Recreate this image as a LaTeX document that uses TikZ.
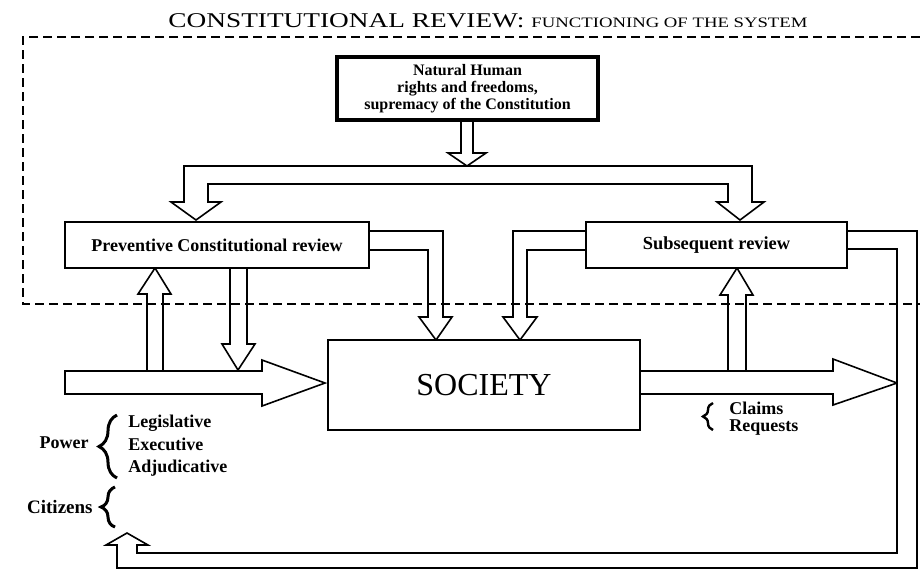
\documentclass[tikz,border=0pt]{standalone}
\usepackage{fontspec}
\setmainfont{Liberation Serif}
\newfontfamily\titlefont[FakeStretch=1.3]{Liberation Serif}
\usetikzlibrary{decorations.pathreplacing}

\begin{document}
\begin{tikzpicture}[x=0.5pt,y=-0.5pt,
    box/.style={draw,line width=0.8pt,fill=white,inner sep=0pt},
    hollow/.style={draw,fill=white,line width=0.8pt,line join=miter},
    lbl/.style={font=\bfseries\fontsize{9}{10}\selectfont,inner sep=0pt},
    curly/.style={decorate,decoration={brace,amplitude=#1},line width=1.5pt}]
  \path[use as bounding box,clip] (0,0) rectangle (920,570);

  \node[anchor=base,inner sep=0pt] (title) at (488,27)
    {\titlefont\fontsize{10.5}{12}\selectfont CONSTITUTIONAL REVIEW:
     \fontsize{7.2}{9}\selectfont FUNCTIONING OF THE SYSTEM};

  % Hollow arrows, drawn first so that the boxes sit on top.
  \draw[hollow] (461,120) -- (461,153) -- (448,153) -- (467,166) -- (486,153)
    -- (473,153) -- (473,120) -- cycle;
  \draw[hollow] (171,202) -- (196,220) -- (221,202) -- (208,202) -- (208,184)
    -- (728,184) -- (728,202) -- (717,202) -- (740,220) -- (764,202)
    -- (752,202) -- (752,166) -- (184,166) -- (184,202) -- cycle;

  \draw[hollow] (369,231) -- (443,231) -- (443,317) -- (452,317) -- (436,340)
    -- (419,317) -- (428,317) -- (428,250) -- (369,250) -- cycle;
  \draw[hollow] (586,231) -- (513,231) -- (513,317) -- (503,317) -- (520,340)
    -- (537,317) -- (527,317) -- (527,250) -- (586,250) -- cycle;

  \draw[hollow] (65,371) -- (262,371) -- (262,360) -- (325,383) -- (262,406)
    -- (262,394) -- (65,394) -- cycle;
  \draw[hollow] (640,371) -- (833,371) -- (833,359) -- (897,383) -- (833,405)
    -- (833,394) -- (640,394) -- cycle;

  \draw[hollow] (147,371) -- (147,294) -- (138,294) -- (155,268) -- (171,294)
    -- (163,294) -- (163,371) -- cycle;
  \draw[hollow] (230,268) -- (230,344) -- (222,344) -- (238,370) -- (255,344)
    -- (247,344) -- (247,268) -- cycle;
  \draw[hollow] (728,371) -- (728,295) -- (720,295) -- (737,268) -- (753,295)
    -- (746,295) -- (746,371) -- cycle;

  % Feedback from subsequent review back to the citizens.
  \draw[hollow] (847,231) -- (917,231) -- (917,568) -- (117,568) -- (117,545)
    -- (106,545) -- (127,533) -- (148,545) -- (137,545) -- (137,553)
    -- (897,553) -- (897,249) -- (847,249) -- cycle;

  \node[box,line width=2pt,minimum width=130.5pt,minimum height=31.5pt,align=center,
    font=\bfseries\fontsize{8}{8.6}\selectfont] (nat) at (467.5,88.5)
    {Natural Human\\rights and freedoms,\\supremacy of the Constitution};
  \node[box,minimum width=152pt,minimum height=23pt,
    font=\bfseries\fontsize{9}{10}\selectfont] (prev) at (217,245)
    {Preventive Constitutional review};
  \node[box,minimum width=130.5pt,minimum height=23pt,
    font=\bfseries\fontsize{9.2}{10}\selectfont] (subs) at (716.5,245)
    {Subsequent review};
  \node[box,minimum width=156pt,minimum height=45pt,
    font=\fontsize{16}{18}\selectfont] (soc) at (484,385) {SOCIETY};

  % The dashed frame is open on the right.
  \draw[line width=1pt,dash pattern=on 4.5pt off 2.5pt]
    (920,37) -- (23,37) -- (23,304) -- (920,304);

  \node[lbl,anchor=base east] (power) at (89,448) {Power};
  \draw[curly=9pt] (117,478) -- (117,415);
  \node[lbl,anchor=base west] (legis) at (128,427) {Legislative};
  \node[lbl,anchor=base west] (exec) at (128,450) {Executive};
  \node[lbl,anchor=base west] (adju) at (128,472) {Adjudicative};

  \node[lbl,font=\bfseries\fontsize{9.5}{10}\selectfont,anchor=base east] (citiz) at (93,513) {Citizens};
  \draw[curly=7pt] (115,527) -- (115,487);

  \draw[curly=5pt,line width=1.2pt] (713,430) -- (713,403);
  \node[lbl,anchor=base west] (claims) at (729,414) {Claims};
  \node[lbl,anchor=base west] (req) at (729,431) {Requests};
\end{tikzpicture}
\end{document}
